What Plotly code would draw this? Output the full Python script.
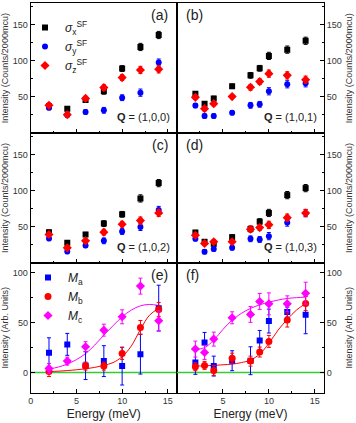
import plotly.graph_objects as go

# ---------------- data ----------------
E7 = [2, 4, 6, 8, 10, 12, 14]
E9 = [2, 3, 4, 6, 8, 9, 10, 12, 14]

# (a) Q=(1,0,0)
a_x = [37, 33.8, 45.8, 57.9, 89.4, 119.4, 136]
a_y = [35.2, 25, 29.2, 31.5, 49, 56, 97.7]
a_z = [38.4, 25.5, 48, 63, 76.9, 87.5, 88.4]
# (b) Q=(1,0,1)
b_x = [54.6, 40.7, 48, 64.8, 80, 89.8, 107, 115.7, 128]
b_y = [38, 23.6, 23.6, 28.2, 38.4, 39.8, 57.9, 67.6, 69]
b_z = [49.5, 33.8, 40.7, 50.5, 63.4, 71.3, 82.4, 80, 74]
# (c) Q=(1,0,2)
c_x = [42.7, 28, 39.4, 54.6, 67.4, 89.4, 110.6]
c_y = [34, 16, 24.3, 30.7, 43.6, 50, 73.4]
c_z = [39.4, 21, 30.7, 42.7, 53.7, 58.7, 69.3]
# (d) Q=(1,0,3)
d_x = [42.2, 29.4, 26.6, 35.8, 47.2, 57.3, 69.3, 94, 103.7]
d_y = [33.5, 15.6, 19.3, 21, 33.5, 32.6, 37.2, 56, 69]
d_z = [38.5, 27, 29.4, 29.4, 46.8, 49, 52.8, 62.8, 69.3]

err7 = [3, 3, 3, 4, 4, 5, 5]
err9 = [3, 3, 3, 3, 4, 4, 5, 5, 5]

# (e)
e_Ma = [19.9, 28.3, 7, 11.5, 6.5, 18.5, 64.7]
e_Ma_err = [15, 11, 14, 15.5, 19, 20, 23]
e_Mb_E = [2, 6, 8, 10, 12, 14]
e_Mb = [1, 6.5, 6.5, 19.2, 45.3, 63.4]
e_Mb_err = [5, 4, 4, 6, 7, 7]
e_Mc = [4.2, 11.5, 26, 42.6, 56, 86.8, 52]
e_Mc_err = [5, 4, 5, 6, 7, 8, 10]
e_fitE = [2, 3, 4, 5, 6, 7, 8, 9, 10, 11, 12, 13, 14]
e_fit_c = [3.5, 5.5, 8.5, 13, 19, 27.6, 37.6, 47, 56, 62.7, 67, 68.4, 67.4]
e_fit_b = [1, 1.4, 2, 2.8, 3.8, 5.2, 7.2, 10, 16, 26.6, 43.3, 57.7, 64.4]

# (f)
f_Ma = [10.2, 30.3, 6.5, 11.9, 11.9, 32.3, 51.7, 60.7, 58]
f_Ma_err = [12, 10, 10, 10, 14, 10, 12, 5, 19]
f_Mb = [5.9, 7.2, 2.2, 14.5, 11.5, 20.6, 31.3, 52.7, 69.4]
f_Mb_err = [4, 4, 5, 5, 5, 5, 6, 7, 7]
f_Mc = [23.6, 20.2, 33.6, 55, 58.4, 71.4, 69, 69, 79.7]
f_Mc_err = [8, 7, 7, 6, 8, 8, 11, 8, 11]
f_fitE = [2, 3, 4, 5, 6, 7, 8, 9, 10, 11, 12, 13, 14]
f_fit_c = [23.2, 25, 32.6, 43.3, 52.7, 59.4, 64.4, 68, 70.7, 72.8, 74.4, 75.2, 75.7]
f_fit_b = [6.5, 6.8, 7.2, 7.8, 8.5, 10, 12.5, 18.6, 29.3, 42.6, 53.4, 62.7, 69.4]

q_labels = ["(1,0,0)", "(1,0,1)", "(1,0,2)", "(1,0,3)"]
panel_labels = ["(a)", "(b)", "(c)", "(d)", "(e)", "(f)"]

# ---------------- figure ----------------
W, H = 356, 423
xl = [30.7 / W, 177 / W]
xr = [177 / W, 324 / W]
yA = [1 - 133 / H, 1 - 3.3 / H]
yC = [1 - 263 / H, 1 - 133 / H]
yE = [1 - 392.5 / H, 1 - 263 / H]

FONT = "Liberation Sans, Arial, sans-serif"
BLK, BLU, RED, MAG, GRN = "#000000", "#0000ff", "#ff0000", "#ff00ff", "#33cc33"

fig = go.Figure()

def add_sf(k, E, sx, sy, sz, err, show):
    xa = "x" if k == 1 else f"x{k}"
    ya = "y" if k == 1 else f"y{k}"
    fig.add_trace(go.Scatter(x=E, y=sx, mode="markers", xaxis=xa, yaxis=ya,
                             marker=dict(symbol="square", color=BLK, size=6),
                             error_y=dict(array=err, color=BLK, thickness=1, width=2),
                             name="<i>σ</i><sub>x</sub><sup>SF</sup>", showlegend=show, legend="legend"))
    fig.add_trace(go.Scatter(x=E, y=sy, mode="markers", xaxis=xa, yaxis=ya,
                             marker=dict(symbol="circle", color=BLU, size=6),
                             error_y=dict(array=err, color=BLU, thickness=1, width=2),
                             name="<i>σ</i><sub>y</sub><sup>SF</sup>", showlegend=show, legend="legend"))
    fig.add_trace(go.Scatter(x=E, y=sz, mode="markers", xaxis=xa, yaxis=ya,
                             marker=dict(symbol="diamond", color=RED, size=7),
                             error_y=dict(array=err, color=RED, thickness=1, width=2),
                             name="<i>σ</i><sub>z</sub><sup>SF</sup>", showlegend=show, legend="legend"))

add_sf(1, E7, a_x, a_y, a_z, err7, True)
add_sf(2, E9, b_x, b_y, b_z, err9, False)
add_sf(3, E7, c_x, c_y, c_z, err7, False)
add_sf(4, E9, d_x, d_y, d_z, err9, False)

def add_m(k, EMa, Ma, Maerr, EMb, Mb, Mberr, EMc, Mc, Mcerr, fitE, fb, fc, show):
    xa, ya = f"x{k}", f"y{k}"
    fig.add_trace(go.Scatter(x=[0, 16], y=[0, 0], mode="lines", xaxis=xa, yaxis=ya,
                             line=dict(color=GRN, width=1.5), showlegend=False, hoverinfo="skip"))
    fig.add_trace(go.Scatter(x=fitE, y=fc, mode="lines", xaxis=xa, yaxis=ya, line_shape="spline",
                             line=dict(color=MAG, width=1), showlegend=False))
    fig.add_trace(go.Scatter(x=fitE, y=fb, mode="lines", xaxis=xa, yaxis=ya, line_shape="spline",
                             line=dict(color=RED, width=1), showlegend=False))
    fig.add_trace(go.Scatter(x=EMa, y=Ma, mode="markers", xaxis=xa, yaxis=ya,
                             marker=dict(symbol="square", color=BLU, size=6),
                             error_y=dict(array=Maerr, color=BLU, thickness=1, width=2),
                             name="<i>M</i><sub>a</sub>", showlegend=show, legend="legend2"))
    fig.add_trace(go.Scatter(x=EMb, y=Mb, mode="markers", xaxis=xa, yaxis=ya,
                             marker=dict(symbol="circle", color=RED, size=7),
                             error_y=dict(array=Mberr, color=RED, thickness=1, width=2),
                             name="<i>M</i><sub>b</sub>", showlegend=show, legend="legend2"))
    fig.add_trace(go.Scatter(x=EMc, y=Mc, mode="markers", xaxis=xa, yaxis=ya,
                             marker=dict(symbol="diamond", color=MAG, size=7),
                             error_y=dict(array=Mcerr, color=MAG, thickness=1, width=2),
                             name="<i>M</i><sub>c</sub>", showlegend=show, legend="legend2"))

add_m(5, E7, e_Ma, e_Ma_err, e_Mb_E, e_Mb, e_Mb_err, E7, e_Mc, e_Mc_err,
      e_fitE, e_fit_b, e_fit_c, True)
add_m(6, E9, f_Ma, f_Ma_err, E9, f_Mb, f_Mb_err, E9, f_Mc, f_Mc_err,
      f_fitE, f_fit_b, f_fit_c, False)

tickfont = dict(family=FONT, size=9, color="#333333")
titlefont = dict(family=FONT, size=9, color="#333333")

def xax(dom, anchor, bottom, left):
    d = dict(domain=dom, anchor=anchor, range=[0, 16], showline=True, mirror=True,
             linecolor=BLK, linewidth=1, ticks="inside", ticklen=4, tickcolor=BLK,
             showgrid=False, zeroline=False, tickfont=tickfont, automargin=False,
             tickvals=[0, 5, 10, 15] if left else [5, 10, 15],
             minor=dict(tickvals=[2.5, 7.5, 12.5], ticks="inside", ticklen=2, tickcolor=BLK),
             showticklabels=bottom)
    if bottom:
        d["title"] = dict(text="Energy (meV)", font=dict(family=FONT, size=12, color="#222222"), standoff=4)
    return d

def yax(dom, anchor, rng, vals, minor, side, title):
    return dict(domain=dom, anchor=anchor, range=rng, showline=True, mirror=True,
                linecolor=BLK, linewidth=1, ticks="inside", ticklen=4, tickcolor=BLK,
                showgrid=False, zeroline=False, tickfont=tickfont, side=side, automargin=False,
                tickvals=vals, minor=dict(tickvals=minor, ticks="inside", ticklen=2, tickcolor=BLK),
                title=dict(text=title, font=titlefont, standoff=4))

T1 = "Intensity (Counts/2000mcu)"
T2 = "Intensity (Arb. Units)"
sfv, sfm = [50, 100, 150], [25, 75, 125, 175]
mv, mm = [0, 50, 100], [-25, 25, 75]

fig.update_layout(
    width=W, height=H, margin=dict(l=0, r=0, t=0, b=0, autoexpand=False),
    plot_bgcolor="white", paper_bgcolor="white",
    font=dict(family=FONT),
    xaxis=xax(xl, "y", False, True), yaxis=yax(yA, "x", [0, 180], sfv, sfm, "left", T1),
    xaxis2=xax(xr, "y2", False, False), yaxis2=yax(yA, "x2", [0, 180], sfv, sfm, "right", T1),
    xaxis3=xax(xl, "y3", False, True), yaxis3=yax(yC, "x3", [0, 180], sfv, sfm, "left", T1),
    xaxis4=xax(xr, "y4", False, False), yaxis4=yax(yC, "x4", [0, 180], sfv, sfm, "right", T1),
    xaxis5=xax(xl, "y5", True, True), yaxis5=yax(yE, "x5", [-20, 110], mv, mm, "left", T2),
    xaxis6=xax(xr, "y6", True, False), yaxis6=yax(yE, "x6", [-20, 110], mv, mm, "right", T2),
    legend=dict(x=25 / W, y=1 - 13 / H, xanchor="left", yanchor="top", bgcolor="rgba(0,0,0,0)",
                font=dict(family=FONT, size=12, color="#222222"), tracegroupgap=0, itemwidth=30),
    legend2=dict(x=28 / W, y=1 - 263 / H, xanchor="left", yanchor="top", bgcolor="rgba(0,0,0,0)",
                 font=dict(family=FONT, size=12, color="#222222"), tracegroupgap=0, itemwidth=30),
)

# panel labels
pos = [(170 / W, 1 - 5 / H, "right"), (184 / W, 1 - 5 / H, "left"),
       (170 / W, 1 - 135 / H, "right"), (184 / W, 1 - 135 / H, "left"),
       (170 / W, 1 - 265 / H, "right"), (184 / W, 1 - 265 / H, "left")]
for (px, py, anc), lab in zip(pos, panel_labels):
    fig.add_annotation(x=px, y=py, xref="paper", yref="paper", text=lab, showarrow=False,
                       xanchor=anc, yanchor="top", font=dict(family=FONT, size=14, color="#222222"))

qpos = [(172 / W, 1 - 125 / H), (319 / W, 1 - 125 / H), (172 / W, 1 - 255 / H), (319 / W, 1 - 255 / H)]
for (px, py), q in zip(qpos, q_labels):
    fig.add_annotation(x=px, y=py, xref="paper", yref="paper", text=f"<b>Q</b> = {q}",
                       showarrow=False, xanchor="right", yanchor="bottom",
                       font=dict(family=FONT, size=11, color="#222222"))

fig.write_html("out.html", config={"displayModeBar": False},
               post_script="document.body.style.margin='0';document.body.style.overflow='hidden';")
